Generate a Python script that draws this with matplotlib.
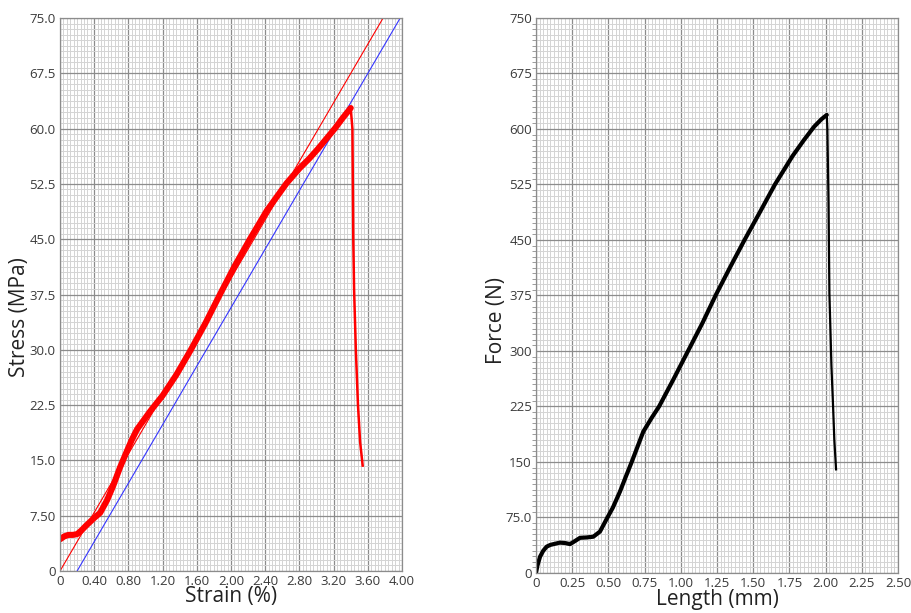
import numpy as np
import matplotlib.pyplot as plt
from matplotlib.ticker import MultipleLocator

plt.rcParams['font.family'] = ['Open Sans', 'DejaVu Sans']

# ---- data: stress-strain (left)
strain_load = [0, 0.05, 0.10, 0.15, 0.20, 0.25, 0.30, 0.40, 0.47, 0.55, 0.62, 0.70,
               0.78, 0.84, 0.90, 0.95, 1.05, 1.20, 1.36, 1.53, 1.70, 1.87, 2.04,
               2.22, 2.42, 2.65, 2.80, 2.92, 3.02, 3.12, 3.22, 3.31, 3.40]
stress_load = [4.3, 4.7, 4.9, 4.9, 5.0, 5.5, 6.1, 7.2, 7.9, 9.6, 11.5, 14.0,
               16.2, 17.8, 19.2, 20.0, 21.6, 23.8, 26.6, 30.0, 33.6, 37.5, 41.3,
               45.0, 48.9, 52.6, 54.6, 56.0, 57.3, 58.7, 60.1, 61.5, 62.8]
strain_break = [3.40, 3.42, 3.43, 3.44, 3.46, 3.485, 3.51, 3.54]
stress_break = [62.8, 60.0, 45.0, 38.0, 30.0, 22.5, 17.5, 14.3]

modulus = 19.85      # MPa per % strain (slope of the fitted line)
offset = 0.20        # % offset line

# ---- data: force-length (right)
length_load = [0, 0.01, 0.028, 0.05, 0.074, 0.10, 0.165, 0.20, 0.235, 0.26, 0.304,
               0.35, 0.396, 0.442, 0.488, 0.53, 0.58, 0.62, 0.661, 0.70, 0.741,
               0.80, 0.85, 0.95, 1.05, 1.15, 1.24, 1.34, 1.44, 1.55, 1.65,
               1.77, 1.85, 1.92, 1.97, 2.008]
force_load = [0, 10, 22, 30, 35.6, 38, 41, 40.5, 39, 42, 47.5,
              48, 49, 56, 73, 88, 110, 130, 150, 170, 191,
              210, 225, 262, 300, 338, 375, 413, 450, 489, 525,
              563, 585, 603, 613, 619]
length_break = [2.008, 2.012, 2.02, 2.026, 2.04, 2.05, 2.06, 2.072]
force_break = [619, 600, 500, 378, 280, 232, 180, 140]

stress_ticks = ['0', '7.50', '15.0', '22.5', '30.0', '37.5', '45.0', '52.5', '60.0', '67.5', '75.0']
strain_ticks = ['0', '0.40', '0.80', '1.20', '1.60', '2.00', '2.40', '2.80', '3.20', '3.60', '4.00']
force_ticks = ['0', '75.0', '150', '225', '300', '375', '450', '525', '600', '675', '750']
length_ticks = ['0', '0.25', '0.50', '0.75', '1.00', '1.25', '1.50', '1.75', '2.00', '2.25', '2.50']

tick_color = '#3a3a3a'
label_color = '#222222'


def style_axes(ax, xmax, ymax, xticks, yticks, ytick_len=0):
    ax.set_xlim(0, xmax)
    ax.set_ylim(0, ymax)
    ax.xaxis.set_minor_locator(MultipleLocator(xmax / 100))
    ax.yaxis.set_minor_locator(MultipleLocator(ymax / 100))
    ax.set_xticks(np.linspace(0, xmax, 11))
    ax.set_yticks(np.linspace(0, ymax, 11))
    ax.set_xticklabels(xticks)
    ax.set_yticklabels(yticks)
    ax.grid(which='minor', color='#d4d4d4', linewidth=0.7)
    ax.grid(which='major', color='#8c8c8c', linewidth=0.9)
    ax.set_axisbelow(True)
    ax.tick_params(which='major', length=0, labelsize=9.5, colors=tick_color, pad=3)
    ax.tick_params(which='minor', length=0)
    if ytick_len:
        ax.tick_params(axis='y', which='minor', length=ytick_len, color='#8c8c8c')
    for s in ax.spines.values():
        s.set_color('#8c8c8c')
        s.set_linewidth(0.9)


fig = plt.figure(figsize=(9.12, 6.13), dpi=100)

# left: stress-strain
ax1 = fig.add_axes([0.0658, 0.0685, 0.375, 0.902])
style_axes(ax1, 4.0, 75.0, strain_ticks, stress_ticks)
ax1.plot([0, 75 / modulus], [0, 75], color='red', lw=0.8)
ax1.plot([offset, offset + 75 / modulus], [0, 75], color='#3535ff', lw=0.8)
ax1.plot(strain_load, stress_load, color='red', lw=4.4, solid_joinstyle='round',
         solid_capstyle='round')
ax1.plot(strain_break, stress_break, color='red', lw=1.8)
ax1.set_xlabel('Strain (%)', fontsize=15, color=label_color)
ax1.set_ylabel('Stress (MPa)', fontsize=15, color=label_color)
ax1.xaxis.set_label_coords(0.5, -0.028)
ax1.yaxis.set_label_coords(-0.088, 0.46)

# right: force-length
ax2 = fig.add_axes([0.5877, 0.0653, 0.397, 0.9054])
style_axes(ax2, 2.5, 750.0, length_ticks, force_ticks, ytick_len=3)
ax2.plot(length_load, force_load, color='black', lw=3.0, solid_joinstyle='round',
         solid_capstyle='round')
ax2.plot(length_break, force_break, color='black', lw=1.6)
ax2.set_xlabel('Length (mm)', fontsize=15, color=label_color)
ax2.set_ylabel('Force (N)', fontsize=15, color=label_color)
ax2.xaxis.set_label_coords(0.5, -0.028)
ax2.yaxis.set_label_coords(-0.080, 0.455)

fig.savefig('out.png', dpi=100)
